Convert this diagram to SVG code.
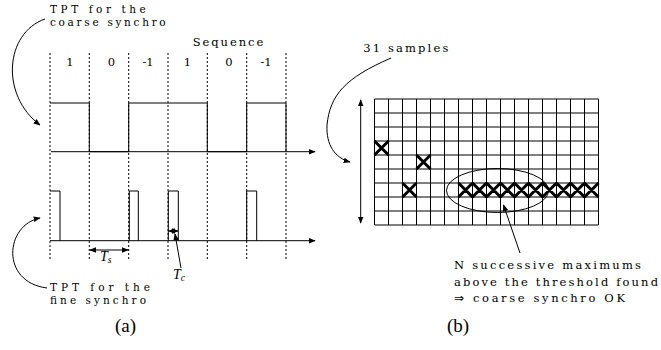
<svg xmlns="http://www.w3.org/2000/svg" width="661" height="350" viewBox="0 0 661 350">
<style>
text{font-family:"DejaVu Serif","Liberation Serif",serif;font-size:11.5px;fill:#000}
.sm{font-size:10.5px}
.it{font-family:"Liberation Serif","DejaVu Serif",serif;font-style:italic;font-size:14px}
.sub{font-size:9.5px}
.big{font-family:"Liberation Serif","DejaVu Serif",serif;font-size:19px}
.arr{font-family:"DejaVu Sans",sans-serif;font-size:12px}
.ln{stroke:#000;stroke-width:1;fill:none}
.dash{stroke:#000;stroke-width:1;stroke-dasharray:2,2;fill:none}
.hg{stroke:#555;stroke-width:1.4;fill:none}
.x{stroke:#000;stroke-width:3;fill:none}
</style>
<defs>
<marker id="ah" viewBox="0 0 10 10" refX="9" refY="5" markerWidth="7" markerHeight="7" markerUnits="userSpaceOnUse" orient="auto-start-reverse">
<path d="M0,1 L10,5 L0,9 Z" fill="#000"/>
</marker>
</defs>

<g id="panel-a">
<g id="dashes">
<line class="dash" x1="50" y1="53" x2="50" y2="260"/>
<line class="dash" x1="89.3" y1="53" x2="89.3" y2="260"/>
<line class="dash" x1="128.7" y1="53" x2="128.7" y2="260"/>
<line class="dash" x1="168" y1="53" x2="168" y2="260"/>
<line class="dash" x1="207.3" y1="53" x2="207.3" y2="260"/>
<line class="dash" x1="246.7" y1="53" x2="246.7" y2="260"/>
<line class="dash" x1="286" y1="53" x2="286" y2="260"/>
</g>
<g id="sequence">
<text x="192.7" y="45.7" textLength="70.6" lengthAdjust="spacing">Sequence</text>
<text x="70" y="66" text-anchor="middle">1</text>
<text x="111.5" y="66" text-anchor="middle">0</text>
<text x="148" y="66" text-anchor="middle">-1</text>
<text x="187.5" y="66" text-anchor="middle">1</text>
<text x="229" y="66" text-anchor="middle">0</text>
<text x="266" y="66" text-anchor="middle">-1</text>
</g>
<g id="coarse-wave">
<path class="ln" d="M50,103 H89.3 V151.7 H128.7 V103 H207.3 V151.7 H246.7 V103 H286 V151.7"/>
<line class="ln" x1="51" y1="151.7" x2="315" y2="151.7" marker-end="url(#ah)"/>
</g>
<g id="fine-wave">
<path class="ln" d="M50,191 H60 V240.7"/>
<path class="ln" d="M129.3,240.7 V191 H138.3 V240.7"/>
<path class="ln" d="M168.3,240.7 V191 H178.3 V240.7"/>
<path class="ln" d="M246.7,240.7 V191 H256.7 V240.7"/>
<line class="ln" x1="50" y1="240.7" x2="315" y2="240.7" marker-end="url(#ah)"/>
</g>
<g id="Ts">
<line class="ln" x1="89.8" y1="250" x2="128.2" y2="250" marker-start="url(#ah)" marker-end="url(#ah)"/>
<text x="100" y="261" class="it">T<tspan class="sub" dy="2">s</tspan></text>
</g>
<g id="Tc">
<line class="ln" x1="168.5" y1="231" x2="178" y2="231" marker-start="url(#ah)" marker-end="url(#ah)" stroke-width="0.8"/>
<line class="ln" x1="181" y1="268" x2="175" y2="234" marker-end="url(#ah)"/>
<text x="173" y="278.5" class="it">T<tspan class="sub" dy="2">c</tspan></text>
</g>
<g id="label-coarse">
<text x="50" y="12.5" class="sm" textLength="95.7" lengthAdjust="spacing">TPT for the</text>
<text x="50" y="25.5" class="sm" textLength="115.7" lengthAdjust="spacing">coarse synchro</text>
<path class="ln" d="M45,19 C5,33 0,95 40,125" marker-end="url(#ah)"/>
</g>
<g id="label-fine">
<text x="50" y="291" class="sm" textLength="100" lengthAdjust="spacing">TPT for the</text>
<text x="50" y="304" class="sm" textLength="96" lengthAdjust="spacing">fine synchro</text>
<path class="ln" d="M47,288 C0,282 5,225 40,218" marker-end="url(#ah)"/>
</g>
<text x="125.5" y="332" text-anchor="middle" class="big">(a)</text>
</g>

<g id="panel-b">
<g id="grid">
<path class="hg" d="M374.5,99 H598.5 M374.5,113 H598.5 M374.5,127 H598.5 M374.5,141 H598.5 M374.5,155 H598.5 M374.5,169 H598.5 M374.5,183 H598.5 M374.5,197 H598.5 M374.5,211 H598.5 M374.5,225 H598.5"/>
<path class="ln" d="M374.5,99 V225 M388.5,99 V225 M402.5,99 V225 M416.5,99 V225 M430.5,99 V225 M444.5,99 V225 M458.5,99 V225 M472.5,99 V225 M486.5,99 V225 M500.5,99 V225 M514.5,99 V225 M528.5,99 V225 M542.5,99 V225 M556.5,99 V225 M570.5,99 V225 M584.5,99 V225 M598.5,99 V225"/>
</g>
<g id="crosses">
<path class="x" d="M374.5,141 l14,14 m0,-14 l-14,14"/>
<path class="x" d="M416.5,155 l14,14 m0,-14 l-14,14"/>
<path class="x" d="M402.5,183 l14,14 m0,-14 l-14,14"/>
<path class="x" d="M458.5,183 l14,14 m0,-14 l-14,14 M472.5,183 l14,14 m0,-14 l-14,14 M486.5,183 l14,14 m0,-14 l-14,14 M500.5,183 l14,14 m0,-14 l-14,14 M514.5,183 l14,14 m0,-14 l-14,14 M528.5,183 l14,14 m0,-14 l-14,14 M542.5,183 l14,14 m0,-14 l-14,14 M556.5,183 l14,14 m0,-14 l-14,14 M570.5,183 l14,14 m0,-14 l-14,14 M584.5,183 l14,14 m0,-14 l-14,14"/>
</g>
<g id="samples">
<line class="ln" x1="360.7" y1="100" x2="360.7" y2="223" marker-start="url(#ah)" marker-end="url(#ah)"/>
<text x="363.3" y="51.7" textLength="85" lengthAdjust="spacing">31 samples</text>
<path class="ln" d="M391,58 C345,78 330,95 327,125 C326,145 335,158 350,162" marker-end="url(#ah)"/>
</g>
<g id="maximums">
<ellipse class="ln" cx="497.5" cy="190.5" rx="51" ry="22"/>
<line class="ln" x1="520" y1="253" x2="503.5" y2="205" marker-end="url(#ah)"/>
<text x="454" y="269" textLength="187" lengthAdjust="spacing">N successive maximums</text>
<text x="454" y="285.5" textLength="204" lengthAdjust="spacing">above the threshold found</text>
<text x="454" y="301.5" textLength="171" lengthAdjust="spacing"><tspan class="arr">⇒</tspan> coarse synchro OK</text>
</g>
<text x="458" y="332" text-anchor="middle" class="big">(b)</text>
</g>
</svg>
